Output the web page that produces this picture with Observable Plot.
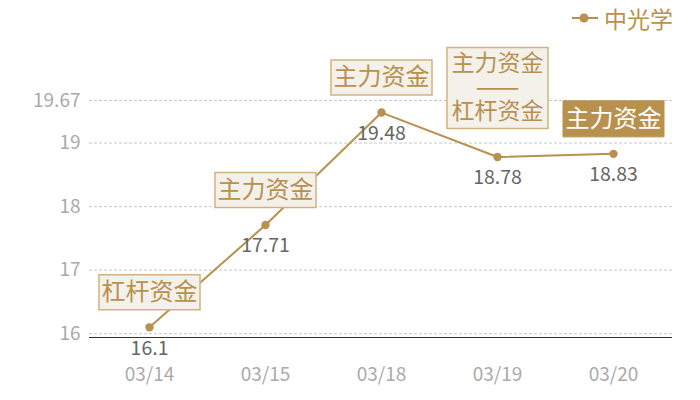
<!DOCTYPE html>
<html><head><meta charset="utf-8">
<script src="https://cdn.jsdelivr.net/npm/d3@7"></script>
<script src="https://cdn.jsdelivr.net/npm/@observablehq/plot@0.6"></script>
<style>
body{margin:0;background:#fff;font-family:"Noto Sans CJK SC",sans-serif;}
#legend{position:relative;height:36px;width:700px;}
#legend .item{position:absolute;left:572px;top:0;height:36px;display:flex;align-items:center;color:#b8914f;font-size:23px;}
#legend svg{margin-right:6px;}
#chart svg{display:block;}
</style></head><body>
<div id="legend"></div>
<div id="chart"></div>
<script>
const dates = ["03/14","03/15","03/18","03/19","03/20"];
const values = [16.1, 17.71, 19.48, 18.78, 18.83];
const notes = ["杠杆资金","主力资金","主力资金","主力资金\n——\n杠杆资金","主力资金"];
const noteKinds = ["single","single","single","double","filled"];
const yTicks = [16, 17, 18, 19, 19.67];
const yDomain = [15.94, 19.67];
const seriesName = "中光学";

const gold = "#b8914f";
const boxFill = "#f4f0ea";
const boxStroke = "#d2b27e";
const font = "'Noto Sans CJK SC', sans-serif";

const data = dates.map((d, i) => ({date: d, value: values[i], note: notes[i], kind: noteKinds[i]}));

document.getElementById("legend").innerHTML =
  `<div class="item"><svg width="26" height="12"><line x1="0" y1="6" x2="26" y2="6" stroke="${gold}" stroke-width="2"/><circle cx="12" cy="6" r="4.5" fill="${gold}"/></svg><span>${seriesName}</span></div>`;

const rectSymbol = (w, h) => ({
  draw(ctx) {
    ctx.moveTo(-w / 2, -h / 2);
    ctx.lineTo(w / 2, -h / 2);
    ctx.lineTo(w / 2, h / 2);
    ctx.lineTo(-w / 2, h / 2);
    ctx.closePath();
  }
});

const single = data.filter(d => d.kind === "single");
const dbl = data.filter(d => d.kind === "double");
const filled = data.filter(d => d.kind === "filled");
// split the two-line note into separate rows, one per line
const dblLines = dbl.flatMap(d => d.note.split("\n").map((t, j, arr) => ({...d, line: t, offset: -69 + (j - (arr.length - 1) / 2) * 24})));

const chart = Plot.plot({
  width: 700,
  height: 364,
  marginTop: 64,
  marginBottom: 63,
  marginLeft: 89,
  marginRight: 28,
  style: {fontFamily: font, background: "transparent", color: "#aaa"},
  x: {type: "point", domain: dates, padding: 0.5, label: null},
  y: {domain: yDomain, label: null},
  marks: [
    Plot.gridY(yTicks, {stroke: "#c8c8c8", strokeOpacity: 1, strokeDasharray: "3,2"}),
    Plot.axisY(yTicks, {tickSize: 0, tickPadding: 9, fill: "#aaa", fontSize: 19, tickFormat: d => String(d), label: null}),
    Plot.axisX({tickSize: 0, tickPadding: 30, fill: "#aaa", fontSize: 19, label: null}),
    Plot.ruleY([yDomain[0]], {stroke: "#333", strokeWidth: 1.2}),
    Plot.line(data, {x: "date", y: "value", stroke: gold, strokeWidth: 2}),
    Plot.dot(data, {x: "date", y: "value", r: 4.2, fill: gold}),
    Plot.text(data, {x: "date", y: "value", text: d => String(d.value), dy: 21, fill: "#666", fontSize: 19.5}),
    Plot.dot(single, {x: "date", y: "value", dy: -35, symbol: rectSymbol(101, 35), fill: boxFill, stroke: boxStroke, strokeWidth: 1.5}),
    Plot.dot(dbl, {x: "date", y: "value", dy: -69, symbol: rectSymbol(101, 81), fill: boxFill, stroke: boxStroke, strokeWidth: 1.5}),
    Plot.dot(filled, {x: "date", y: "value", dy: -35, symbol: rectSymbol(101, 36), fill: gold, stroke: gold, strokeWidth: 1}),
    Plot.text(single, {x: "date", y: "value", text: "note", dy: -35, fill: gold, fontSize: 24}),
    ...dblLines.map(r => Plot.text([r], {x: "date", y: "value", text: "line", dy: r.offset, fill: gold, fontSize: r.line.startsWith("—") ? 26 : 23})),
    Plot.text(filled, {x: "date", y: "value", text: "note", dy: -35, fill: "#fff", fontSize: 24})
  ]
});
document.getElementById("chart").appendChild(chart);
</script>
</body></html>
